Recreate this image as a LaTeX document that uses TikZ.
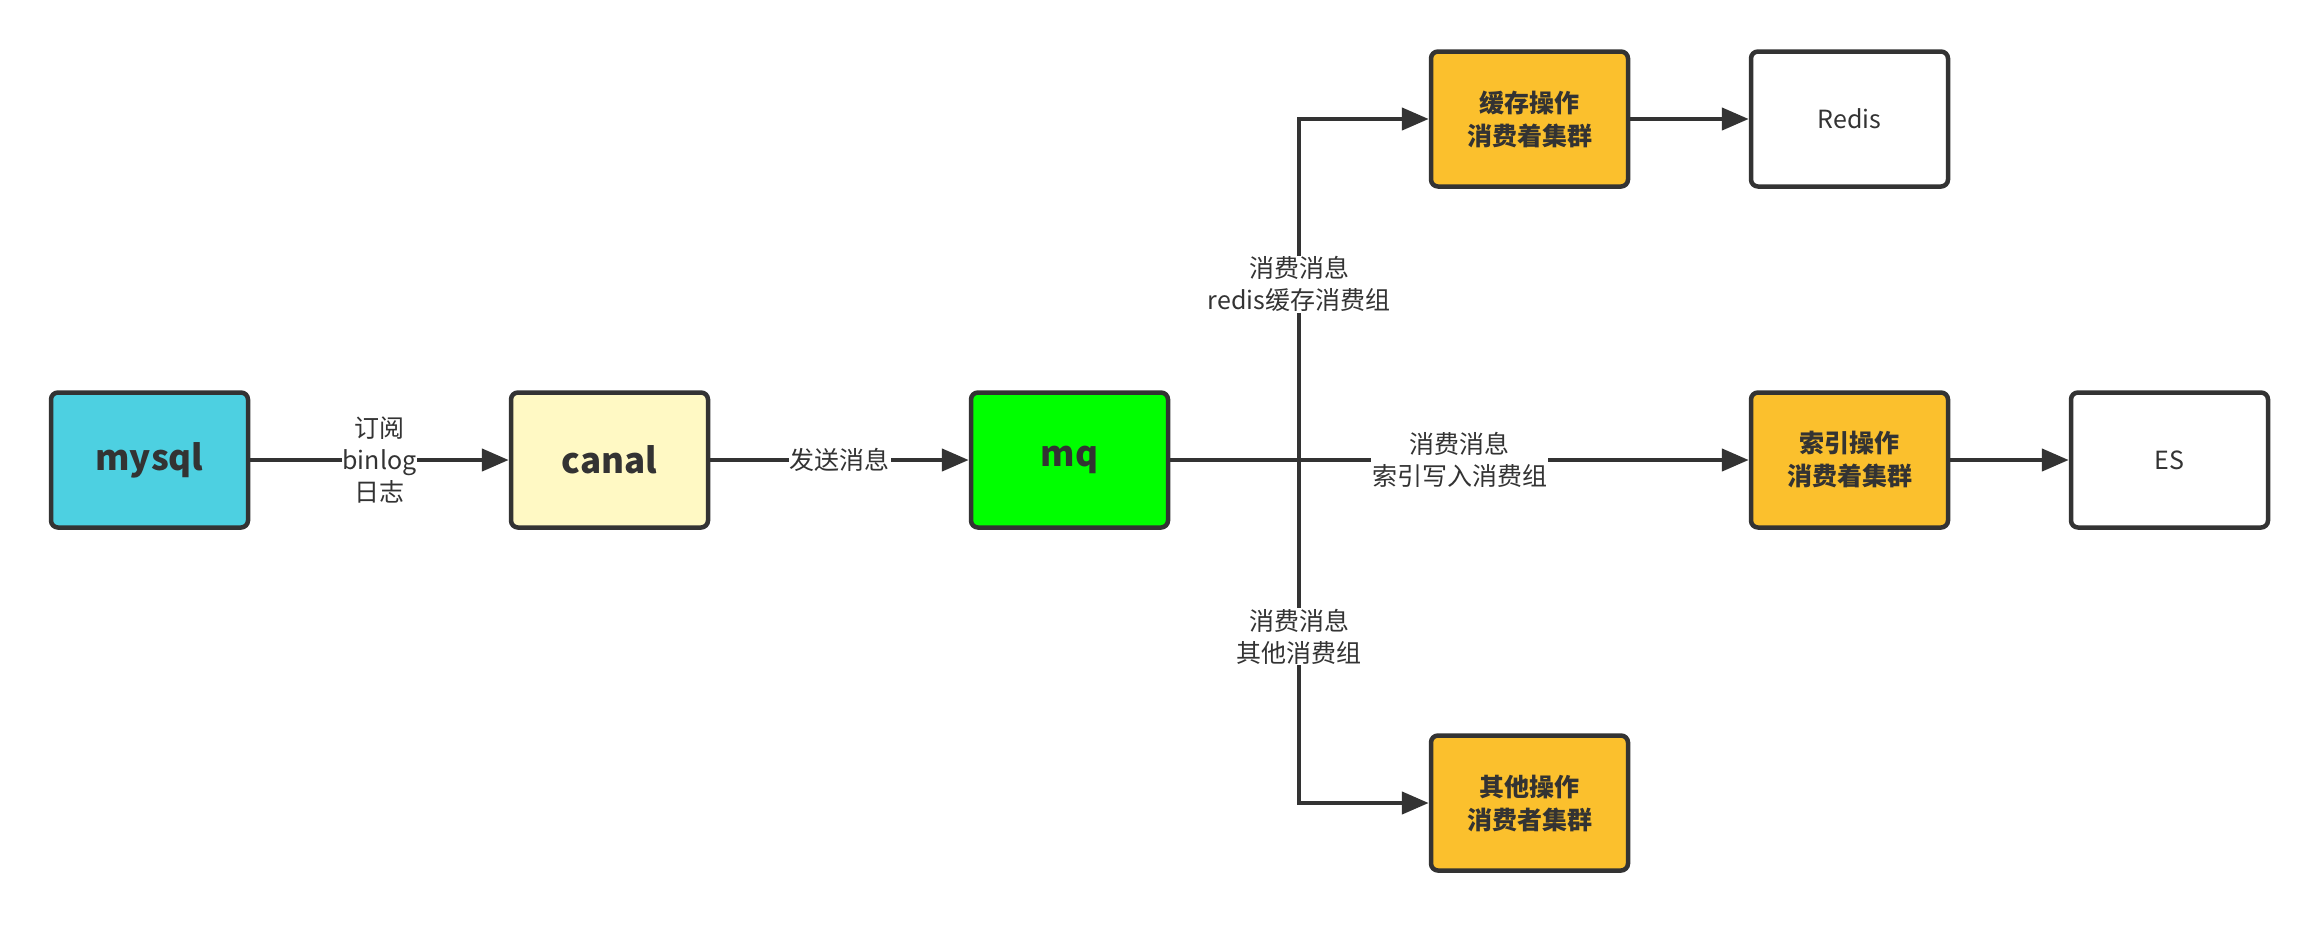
\documentclass[tikz,border=0pt]{standalone}
\usepackage{fontspec}
\setmainfont{Noto Sans CJK SC}
\usetikzlibrary{arrows.meta}
\definecolor{ink}{HTML}{333333}
\definecolor{cyanfill}{HTML}{4DD0E1}
\definecolor{yellowfill}{HTML}{FFF9C4}
\definecolor{greenfill}{HTML}{00FF00}
\definecolor{orangefill}{HTML}{FBC02D}
\tikzset{
  box/.style={draw=ink, line width=4.5pt, rounded corners=7pt, minimum width=197pt, minimum height=135pt, inner sep=0pt, align=center, text=ink},
  bigtxt/.style={font=\fontsize{35}{42}\selectfont\bfseries},
  boldtxt/.style={font=\fontsize{25}{33}\selectfont\bfseries},
  plaintxt/.style={font=\fontsize{25}{33}\selectfont},
  conn/.style={draw=ink, line width=4.5pt, -{Triangle[length=27pt,width=22pt]}},
  lab/.style={fill=white, text=ink, font=\fontsize{25}{32}\selectfont, align=center, inner sep=1pt}
}
\begin{document}
\begin{tikzpicture}[x=1pt,y=-1pt]
\useasboundingbox (0,0) rectangle (2320,924);
% nodes
\node[box, bigtxt, fill=cyanfill] (mysql) at (149.5,460) {mysql};
\node[box, bigtxt, fill=yellowfill] (canal) at (609.5,460) {canal};
\node[box, bigtxt, fill=greenfill] (mq) at (1069.5,460) {mq};
\node[box, boldtxt, fill=orangefill] (cache) at (1529.5,119) {缓存操作\\消费着集群};
\node[box, plaintxt, fill=white] (redis) at (1849.5,119) {Redis};
\node[box, boldtxt, fill=orangefill] (index) at (1849.5,460) {索引操作\\消费着集群};
\node[box, plaintxt, fill=white] (es) at (2169.5,460) {ES};
\node[box, boldtxt, fill=orangefill] (other) at (1529.5,803) {其他操作\\消费者集群};
\coordinate (split) at (1299,460);
% connectors
\draw[conn] (mysql) -- node[lab] (l1) {订阅\\binlog\\日志} (canal);
\draw[conn] (canal) -- node[lab] (l2) {发送消息} (mq);
\draw[conn] (mq) -- node[lab, pos=0.5] (l3) {消费消息\\索引写入消费组} (index);
\draw[conn] (split) -- node[lab, pos=0.515] (l4) {消费消息\\redis缓存消费组} (split |- cache.west) -- (cache.west);
\draw[conn] (split) -- node[lab, pos=0.515] (l5) {消费消息\\其他消费组} (split |- other.west) -- (other.west);
\draw[conn] (cache) -- (redis);
\draw[conn] (index) -- (es);
\end{tikzpicture}
\end{document}
